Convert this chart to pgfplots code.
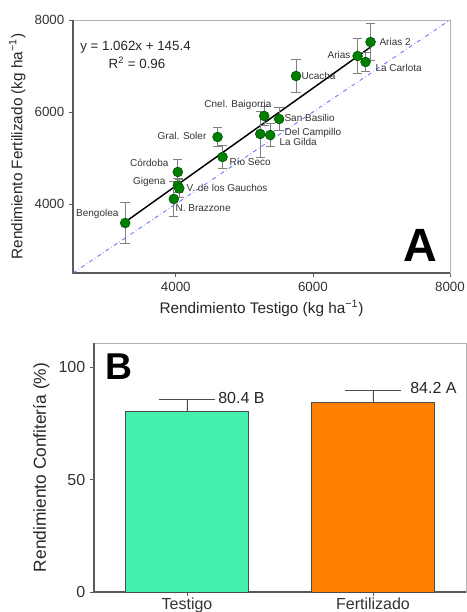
\documentclass[border=0pt]{standalone}
\usepackage{fontspec}
\setmainfont{Liberation Sans}
\usepackage{pgfplots}
\pgfplotsset{compat=1.18}
\newlength\px
\setlength\px{0.75pt}
\definecolor{ptgreen}{RGB}{0,128,0}
\definecolor{testigo}{RGB}{69,240,174}
\definecolor{fertil}{RGB}{255,128,0}
\definecolor{frame}{RGB}{90,90,90}

\pgfplotstableread{
x y e
3261 3587 450
4029 4696 280
4030 4400 150
4050 4340 200
3971 4109 390
4609 5457 200
4681 5022 250
5290 5913 200
5507 5848 240
5232 5522 500
5377 5500 250
5754 6783 350
6652 7217 380
6841 7522 410
6768 7087 200
}\sitios

\begin{document}
\begin{tikzpicture}
\path[use as bounding box] (0,0) rectangle (467\px,612\px);

% Panel A
\begin{axis}[
    at={(73\px,339\px)}, anchor=south west,
    scale only axis, width=377\px, height=253\px,
    xmin=2500, xmax=8000, ymin=2500, ymax=8000,
    xtick={4000,6000,8000}, ytick={4000,6000,8000},
    /pgf/number format/set thousands separator={},
    /pgf/number format/assume math mode=true,
    tick label style={font=\fontsize{10}{12}\selectfont, text=black!80},
    tick align=outside, tick pos=left, major tick length=4\px,
    tick style={frame, line width=0.6pt},
    axis line style={gray!60, line width=0.6pt},
    xlabel={Rendimiento Testigo (kg ha\textsuperscript{−1})},
    ylabel={Rendimiento Fertilizado (kg ha\textsuperscript{−1})},
    label style={font=\fontsize{11.5}{13}\selectfont, text=black!85},
    clip=false,
]
\draw[frame, line width=1.6pt] (rel axis cs:0,1) -- (rel axis cs:0,0) -- (rel axis cs:1,0);
\addplot[blue!60, dash dot, line width=0.6pt] coordinates {(2500,2500) (8000,8000)};
\addplot[black, line width=1.1pt] coordinates {(3300,3650) (6850,7420.1)};
\addplot[only marks, mark=*, mark size=3.7pt,
    mark options={fill=ptgreen, draw=ptgreen!60!black, line width=0.4pt},
    error bars/.cd, y dir=both, y explicit,
    error bar style={gray, line width=0.7pt},
    error mark options={rotate=90, mark size=3.5pt, gray, line width=0.7pt}]
    table[x=x, y=y, y error=e] {\sitios};

\begin{scope}[font=\fontsize{7.5}{9}\selectfont, text=black!80, inner sep=1pt]
\node[anchor=east] at (axis cs:3186,3783) {Bengolea};
\node[anchor=east] at (axis cs:3915,4891) {Córdoba};
\node[anchor=east] at (axis cs:3871,4478) {Gigena};
\node[anchor=west] at (axis cs:4134,4348) {V. de los Gauchos};
\node[anchor=west] at (axis cs:3973,3913) {N. Brazzone};
\node[anchor=east] at (axis cs:4469,5478) {Gral. Soler};
\node[anchor=west] at (axis cs:4761,4913) {Río Seco};
\node at (axis cs:4907,6152) {Cnel. Baigorria};
\node[anchor=west] at (axis cs:5563,5870) {San Basilio};
\node[anchor=west] at (axis cs:5563,5543) {Del Campillo};
\node[anchor=west] at (axis cs:5490,5348) {La Gilda};
\node[anchor=west] at (axis cs:5811,6783) {Ucacha};
\node[anchor=east] at (axis cs:6570,7239) {Arias};
\node[anchor=west] at (axis cs:6949,7522) {Arias 2};
\node[anchor=west] at (axis cs:6891,6957) {La Carlota};
\end{scope}
\node[anchor=west, font=\fontsize{10}{12}\selectfont, text=black!85, inner sep=0pt] at (axis cs:2602,7413) {y = 1.062x + 145.4};
\node[font=\fontsize{10}{12}\selectfont, text=black!85, inner sep=0pt] at (axis cs:3434,7065) {R\textsuperscript{2} = 0.96};
\node[font=\fontsize{35}{36}\selectfont\bfseries, inner sep=0pt] at (axis cs:7562,3109) {A};
\end{axis}

% Panel B
\begin{axis}[
    at={(94\px,20\px)}, anchor=south west,
    scale only axis, width=372\px, height=249\px,
    xmin=-0.5, xmax=1.5, ymin=0, ymax=110.7,
    ybar, bar width=0.66,
    xtick={0,1}, xticklabels={Testigo, Fertilizado},
    ytick={0,50,100},
    /pgf/number format/assume math mode=true,
    tick label style={font=\fontsize{12}{14}\selectfont, text=black!80},
    xticklabel style={font=\fontsize{12}{14}\selectfont, inner sep=1pt},
    tick align=outside, tick pos=left, major tick length=4\px,
    tick style={frame, line width=0.6pt},
    axis line style={gray!60, line width=0.6pt},
    ylabel={Rendimiento Confitería (\%)},
    label style={font=\fontsize{13}{15}\selectfont, text=black!85},
    clip=false,
]
\draw[frame, line width=1.6pt] (rel axis cs:0,1) -- (rel axis cs:0,0) -- (rel axis cs:1,0);
\addplot[bar shift=0pt, fill=testigo, draw=black!70, line width=0.7pt,
    error bars/.cd, y dir=plus, y explicit,
    error bar style={black!70, line width=0.7pt},
    error mark options={rotate=90, mark size=21pt, black!70, line width=0.7pt}]
    coordinates {(0,80.4) +- (0,5.0)};
\addplot[bar shift=0pt, fill=fertil, draw=black!70, line width=0.7pt,
    error bars/.cd, y dir=plus, y explicit,
    error bar style={black!70, line width=0.7pt},
    error mark options={rotate=90, mark size=21pt, black!70, line width=0.7pt}]
    coordinates {(1,84.2) +- (0,5.6)};
\node[anchor=west, font=\fontsize{12}{14}\selectfont, text=black!85, inner sep=0pt] at (axis cs:0.167,86.2) {80.4 B};
\node[anchor=west, font=\fontsize{12}{14}\selectfont, text=black!85, inner sep=0pt] at (axis cs:1.199,90.7) {84.2 A};
\node[font=\fontsize{28}{30}\selectfont\bfseries, inner sep=0pt] at (rel axis cs:0.068,0.905) {B};
\end{axis}
\end{tikzpicture}
\end{document}
